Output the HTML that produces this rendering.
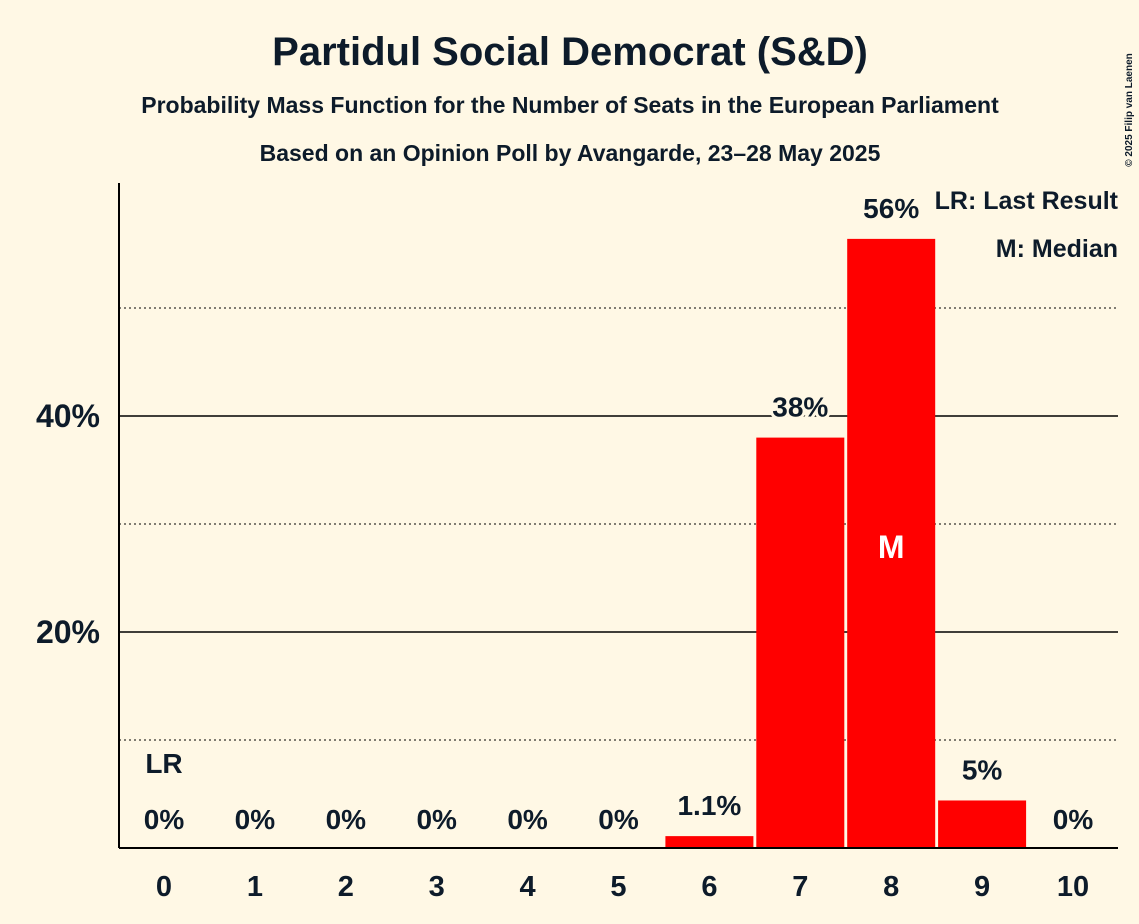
<!DOCTYPE html>
<html><head><meta charset="utf-8"><style>
body{margin:0;background:#fff8e5;font-family:"Liberation Sans",sans-serif;}
svg{display:block}
text{font-family:"Liberation Sans",sans-serif;font-weight:bold;fill:#0d1b2a}
</style></head><body>
<svg id="c" width="1139" height="924">
<rect width="1139" height="924" fill="#fff8e5"/>
<text x="570" y="65" text-anchor="middle" font-size="40">Partidul Social Democrat (S&amp;D)</text>
<text x="570" y="113" text-anchor="middle" font-size="23">Probability Mass Function for the Number of Seats in the European Parliament</text>
<text x="570" y="161" text-anchor="middle" font-size="23">Based on an Opinion Poll by Avangarde, 23–28 May 2025</text>
<text x="1132" y="110" font-size="10" font-weight="normal" transform="rotate(-90 1132 110)" text-anchor="middle">© 2025 Filip van Laenen</text>
<g id="grid"></g><g id="bars"></g><g id="labels"></g>
<line x1="119" y1="183" x2="119" y2="848" stroke="#000" stroke-width="2"/>
<line x1="119" y1="848" x2="1118" y2="848" stroke="#000" stroke-width="2"/>
<text x="1118" y="209" text-anchor="end" font-size="25">LR: Last Result</text>
<text x="1118" y="257" text-anchor="end" font-size="25">M: Median</text>
</svg>
<script>
const categories=[0,1,2,3,4,5,6,7,8,9,10];
const values=[0,0,0,0,0,0,1.1,38,56.4,4.4,0];
const valueLabels=["0%","0%","0%","0%","0%","0%","1.1%","38%","56%","5%","0%"];
const gridTicks=[10,20,30,40,50];
const tickLabels=["20%","40%"];
const tickValues=[20,40];
const lastResult=0, median=8;
const NS="http://www.w3.org/2000/svg";
const y=v=>848-v*10.8;
const x=c=>164+c*90.9;
function mk(t,a,p){const e=document.createElementNS(NS,t);for(const k in a)e.setAttribute(k,a[k]);p.appendChild(e);return e;}
const g=document.getElementById('grid'),b=document.getElementById('bars'),l=document.getElementById('labels');
gridTicks.forEach(v=>{const solid=v%20===0;
const e=mk('line',{x1:119,x2:1118,y1:y(v),y2:y(v),stroke:'#000','stroke-width':solid?1.5:1,'stroke-dasharray':solid?'':'2,3'},g);

});
tickValues.forEach((v,i)=>{const t=mk('text',{x:100,y:y(v)+11,'text-anchor':'end','font-size':32},l);t.textContent=tickLabels[i];

});
categories.forEach((c,i)=>{
if(values[i]>0){const r=mk('rect',{x:x(c)-44,y:y(values[i]),width:88,height:848-y(values[i]),fill:'#ff0000'},b);

}
const t=mk('text',{x:x(c),y:y(values[i])-(values[i]>0?21:19),'text-anchor':'middle','font-size':28,stroke:'#fff8e5','stroke-width':6,'paint-order':'stroke'},l);t.textContent=valueLabels[i];


const xt=mk('text',{x:x(c),y:896,'text-anchor':'middle','font-size':29},l);xt.textContent=c;

});
const lr=mk('text',{x:x(lastResult),y:773,'text-anchor':'middle','font-size':28},l);lr.textContent='LR';


const m=mk('text',{x:x(median),y:558,'text-anchor':'middle','font-size':32,fill:'#fff'},l);m.textContent='M';m.style.fill='#fff';


</script>
</body></html>
